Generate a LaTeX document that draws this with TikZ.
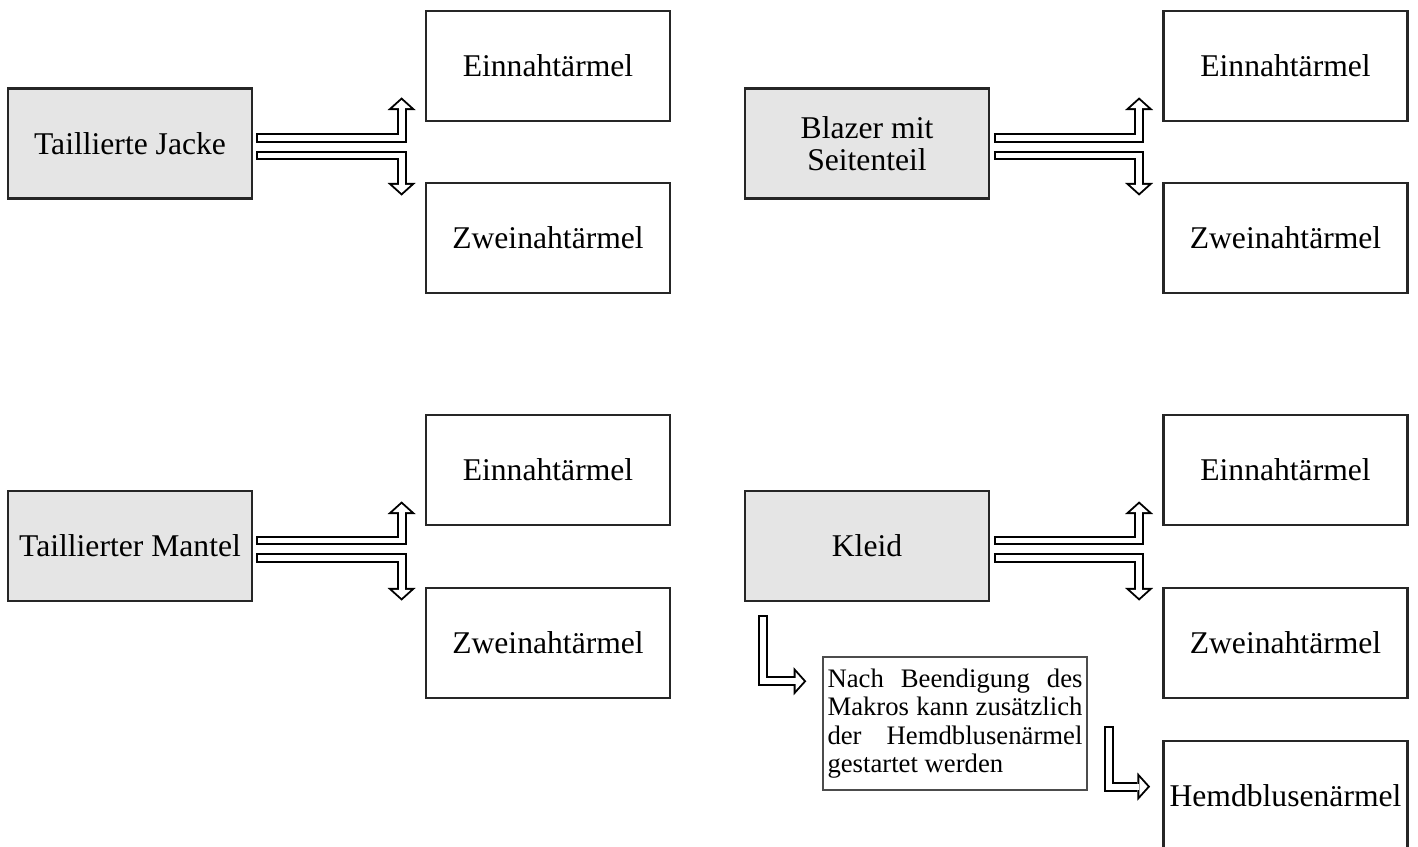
\documentclass[tikz,border=0pt]{standalone}
\usepackage{fontspec}
\setmainfont{Liberation Serif}
\usepackage{tikz}
\usetikzlibrary{arrows.meta}

\tikzset{
  teil/.style={draw=black!85, line width=0.8pt, minimum width=2.44cm, minimum height=1.10cm,
    inner sep=0pt, align=center, font=\fontsize{9}{9.2}\selectfont},
  modell/.style={teil, fill=black!10},
  hinweis/.style={draw=black!70, line width=0.4pt, text width=2.55cm, inner xsep=0.045cm,
    minimum height=1.33cm, align=justify, font=\fontsize{7.6}{8.1}\selectfont},
  hohlpfeil/.style={line width=2.8pt, -{Triangle[width=8pt,length=3.6pt,line width=0pt]},
    postaction={draw=white, line width=1.7pt, shorten <=0.55pt, shorten >=0.74pt,
      -{Triangle[width=5.13pt,length=2.31pt,line width=0pt]}}}
}

\begin{document}
\begin{tikzpicture}
        \useasboundingbox (0,0) rectangle (14.18,-8.46);               %
        \clip (0,0) rectangle (14.18,-8.46);                           %
        % oben links
        \node [modell] (jacke)  at (1.30,-1.435)  {Taillierte Jacke};   %
        \node [teil]   (ein1)   at (5.48,-0.66)   {Einnahtärmel};       %
        \node [teil]   (zwei1)  at (5.48,-2.38)   {Zweinahtärmel};      %
        % oben rechts
        \node [modell] (blazer) at (8.67,-1.435)  {Blazer mit\\Seitenteil};
        \node [teil]   (ein2)   at (12.855,-0.66) {Einnahtärmel};       %
        \node [teil]   (zwei2)  at (12.855,-2.38) {Zweinahtärmel};      %
        % unten links
        \node [modell] (mantel) at (1.30,-5.46)   {Taillierter Mantel}; %
        \node [teil]   (ein3)   at (5.48,-4.70)   {Einnahtärmel};       %
        \node [teil]   (zwei3)  at (5.48,-6.43)   {Zweinahtärmel};      %
        % unten rechts
        \node [modell] (kleid)  at (8.67,-5.46)   {Kleid};              %
        \node [teil]   (ein4)   at (12.855,-4.70) {Einnahtärmel};       %
        \node [teil]   (zwei4)  at (12.855,-6.43) {Zweinahtärmel};      %
        \node [hinweis] (makro) at (9.55,-7.235)
              {\hyphenpenalty=10000 Nach Beendigung des Makros kann zusätzlich der Hemdblusenärmel gestartet werden};
        \node [teil]   (hemd)   at (12.855,-7.96) {Hemdblusenärmel};    %
        % Pfeile
        \draw [hohlpfeil] ([shift={(0.03,0.055)}]jacke.east)   -| ([shift={(-0.23,0.25)}]ein1.south west);
        \draw [hohlpfeil] ([shift={(0.03,-0.12)}]jacke.east)   -| ([shift={(-0.23,-0.14)}]zwei1.north west);
        \draw [hohlpfeil] ([shift={(0.035,0.055)}]blazer.east) -| ([shift={(-0.23,0.25)}]ein2.south west);
        \draw [hohlpfeil] ([shift={(0.035,-0.12)}]blazer.east) -| ([shift={(-0.23,-0.14)}]zwei2.north west);
        \draw [hohlpfeil] ([shift={(0.03,0.055)}]mantel.east)  -| ([shift={(-0.23,0.25)}]ein3.south west);
        \draw [hohlpfeil] ([shift={(0.03,-0.12)}]mantel.east)  -| ([shift={(-0.23,-0.14)}]zwei3.north west);
        \draw [hohlpfeil] ([shift={(0.035,0.055)}]kleid.east)  -| ([shift={(-0.23,0.25)}]ein4.south west);
        \draw [hohlpfeil] ([shift={(0.035,-0.12)}]kleid.east)  -| ([shift={(-0.23,-0.14)}]zwei4.north west);
        \draw [hohlpfeil] ([shift={(0.19,-0.13)}]kleid.south west) |- ([shift={(-0.16,-0.25)}]makro.north west);
        \draw [hohlpfeil] ([shift={(0.21,-0.70)}]makro.north east) |- ([shift={(-0.12,-0.47)}]hemd.north west);
\end{tikzpicture}
\end{document}
